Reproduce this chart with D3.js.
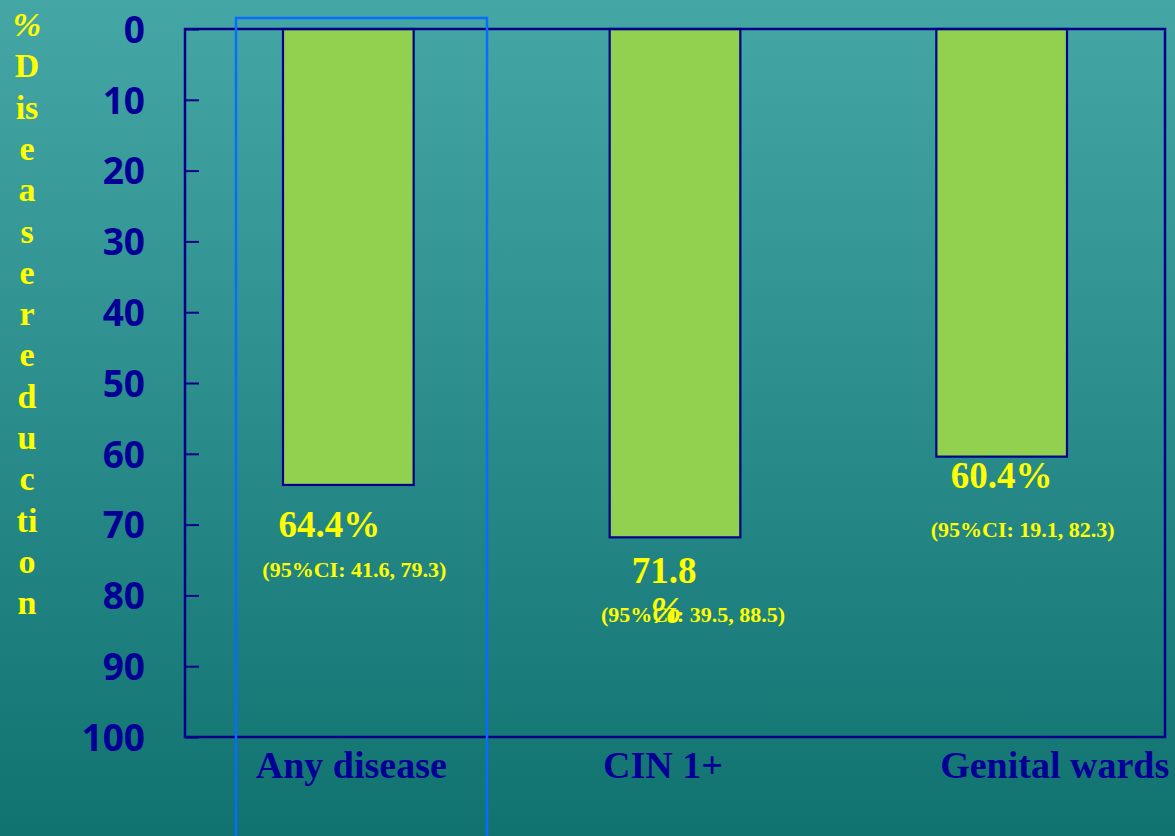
<!DOCTYPE html>
<html>
<head>
<meta charset="utf-8">
<script src="https://cdn.jsdelivr.net/npm/d3@7"></script>
<style>
  html, body { margin: 0; padding: 0; overflow: hidden; }
  svg { display: block; }
</style>
</head>
<body>
<script>
// Vaccine efficacy: percentage disease reduction by endpoint
const categories = ["Any disease", "CIN 1+", "Genital wards"];
const reductions = [64.4, 71.8, 60.4];
const ciLow = [41.6, 39.5, 19.1];
const ciHigh = [79.3, 88.5, 82.3];
const yTicks = [0, 10, 20, 30, 40, 50, 60, 70, 80, 90, 100];
const axisTitleLines = ["%", "D", "is", "e", "a", "s", "e", "r", "e", "d", "u", "c", "ti", "o", "n"];

// Label placement relative to each bar (centre x, bar end y)
const valueLabelLayout = [
  { dx: -19, dy: 52, lines: 1 },
  { dx: -11, dy: 46, lines: 2 },
  { dx: 0, dy: 31, lines: 1 }
];
const ciLabelLayout = [{ dx: 6, dy: 92 }, { dx: 18, dy: 85 }, { dx: 21, dy: 80 }];
const categoryLabelDx = [3, -12, 53];

const W = 1175, H = 836;
const plot = { left: 185, top: 29, right: 1165, bottom: 737 };

const NAVY = "#000096";
const YELLOW = "#ffff00";
const SERIF = "'Liberation Serif', 'Times New Roman', serif";

const svg = d3.select("body").append("svg")
  .attr("width", W).attr("height", H);

// Background gradient
const defs = svg.append("defs");
const grad = defs.append("linearGradient")
  .attr("id", "bg").attr("x1", 0).attr("y1", 0).attr("x2", 0).attr("y2", 1);
grad.append("stop").attr("offset", "0%").attr("stop-color", "#45a6a6");
grad.append("stop").attr("offset", "100%").attr("stop-color", "#107370");
svg.append("rect").attr("width", W).attr("height", H).attr("fill", "url(#bg)");

const x = d3.scaleBand()
  .domain(categories)
  .range([plot.left, plot.right])
  .paddingInner(0.6)
  .paddingOuter(0.3);

const y = d3.scaleLinear()
  .domain([0, 100])
  .range([plot.top, plot.bottom]);

const data = categories.map((c, i) => ({
  cat: c, value: reductions[i], lo: ciLow[i], hi: ciHigh[i], i
}));

// Bars hang down from zero
svg.append("g").selectAll("rect")
  .data(data)
  .join("rect")
  .attr("x", d => x(d.cat))
  .attr("y", y(0))
  .attr("width", x.bandwidth())
  .attr("height", d => y(d.value) - y(0))
  .attr("fill", "#92d050")
  .attr("stroke", "#000088")
  .attr("stroke-width", 2.2);

// Plot frame
svg.append("rect")
  .attr("x", plot.left).attr("y", plot.top)
  .attr("width", plot.right - plot.left)
  .attr("height", plot.bottom - plot.top)
  .attr("fill", "none")
  .attr("stroke", "#000088")
  .attr("stroke-width", 2.5);

// Y axis with inward ticks
const yAxis = svg.append("g")
  .attr("transform", `translate(${plot.left},0)`)
  .call(d3.axisLeft(y).tickValues(yTicks).tickSize(-14).tickPadding(40));
yAxis.select(".domain").remove();
yAxis.selectAll(".tick line").attr("stroke", "#000088").attr("stroke-width", 2);
yAxis.selectAll(".tick text")
  .attr("fill", NAVY)
  .attr("font-family", "'Open Sans', sans-serif")
  .attr("font-weight", 700)
  .attr("font-size", 37)
  .attr("dy", "0.36em");

// Vertical stacked axis title
const title = svg.append("text")
  .attr("font-family", SERIF)
  .attr("font-weight", 700)
  .attr("font-size", 34)
  .attr("fill", YELLOW)
  .attr("text-anchor", "middle");
title.selectAll("tspan")
  .data(axisTitleLines)
  .join("tspan")
  .attr("x", 27)
  .attr("y", (d, i) => 36 + i * 41.3)
  .attr("font-style", d => d === "%" ? "italic" : null)
  .text(d => d);

// Value labels and confidence intervals
const fmt = d3.format(".1f");
data.forEach(d => {
  const C = ciLabelLayout[d.i];
  svg.append("text")
    .attr("x", x(d.cat) + x.bandwidth() / 2 + C.dx)
    .attr("y", y(d.value) + C.dy)
    .attr("font-family", SERIF)
    .attr("font-weight", 700)
    .attr("font-size", 22)
    .attr("fill", YELLOW)
    .attr("text-anchor", "middle")
    .text(`(95%CI: ${fmt(d.lo)}, ${fmt(d.hi)})`);

  const L = valueLabelLayout[d.i];
  const cx = x(d.cat) + x.bandwidth() / 2 + L.dx;
  const by = y(d.value) + L.dy;
  const t = svg.append("text")
    .attr("font-family", SERIF)
    .attr("font-weight", 700)
    .attr("font-size", 37)
    .attr("fill", YELLOW)
    .attr("text-anchor", "middle");
  const full = fmt(d.value) + "%";
  const parts = L.lines === 2 ? [fmt(d.value), "%"] : [full];
  parts.forEach((p, k) => {
    t.append("tspan")
      .attr("x", cx + (k ? 2 : 0))
      .attr("y", by + k * 40)
      .attr("font-style", k ? "italic" : null)
      .text(p);
  });
});

// Category labels
svg.append("g").selectAll("text")
  .data(data)
  .join("text")
  .attr("x", d => x(d.cat) + x.bandwidth() / 2 + categoryLabelDx[d.i])
  .attr("y", 778)
  .attr("font-family", SERIF)
  .attr("font-weight", 700)
  .attr("font-size", 38)
  .attr("fill", NAVY)
  .attr("text-anchor", "middle")
  .text(d => d.cat);

// Highlight box around the first category
const hx = x(categories[0]) - 47;
svg.append("rect")
  .attr("x", hx)
  .attr("y", 18)
  .attr("width", 251)
  .attr("height", H + 20)
  .attr("fill", "none")
  .attr("stroke", "#0a6cff")
  .attr("stroke-width", 2.5);
</script>
</body>
</html>
